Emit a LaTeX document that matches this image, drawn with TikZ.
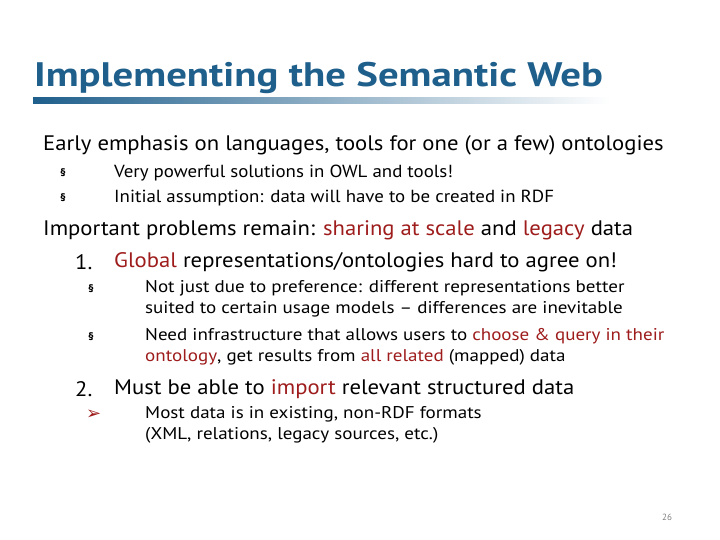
\documentclass[tikz,border=0pt]{standalone}
\usepackage{fontspec}
\setmainfont{PT Sans}
\newfontfamily\titlef[FakeStretch=1.2]{PT Sans}
\newfontfamily\bodyf[FakeStretch=1.08]{PT Sans}
\newfontfamily\subf[FakeStretch=1.12]{PT Sans}
\newfontfamily\symf{DejaVu Sans}
\definecolor{tblue}{HTML}{1F5F8C}
\definecolor{hred}{HTML}{9E1C1C}
\begin{document}
\begin{tikzpicture}[x=1pt,y=-1pt,
  txt/.style={anchor=west,inner sep=0pt,text=black},
  lvl1/.style={txt,font=\bodyf\fontsize{21}{24}\selectfont},
  lvl2/.style={txt,font=\bodyf\fontsize{17.5}{20}\selectfont},
  lvl3/.style={txt,font=\subf\fontsize{17}{21}\selectfont,align=left},
  bul/.style={txt,font=\bfseries\fontsize{11}{12}\selectfont}]
\useasboundingbox (0,0) rectangle (720,540);
\fill[white] (0,0) rectangle (720,540);
\node[txt,font=\titlef\fontsize{34}{38}\selectfont\bfseries,text=tblue] (title) at (34,78) {Implementing the Semantic Web};
\shade[left color=tblue,right color=white] (33,98) rectangle (610,104);
\node[lvl1] (l1) at (43,145) {Early emphasis on languages, tools for one (or a few) ontologies};
\node[bul] (b1) at (60,173) {§};
\node[lvl2] (t1) at (114,173) {Very powerful solutions in OWL and tools!};
\node[bul] (b2) at (60,198) {§};
\node[lvl2] (t2) at (114,198) {Initial assumption: data will have to be created in RDF};
\node[lvl1] (l2) at (43,230) {Important problems remain: \textcolor{hred}{sharing at scale} and \textcolor{hred}{legacy} data};
\node[lvl1] (n1) at (75,262) {1.};
\node[lvl1] (t3) at (114,262) {\textcolor{hred}{Global} representations/ontologies hard to agree on!};
\node[bul] (b3) at (88,289) {§};
\node[lvl3,anchor=north west] (t4) at (145,280) {Not just due to preference: different representations better\\suited to certain usage models – differences are inevitable};
\node[bul] (b4) at (88,337) {§};
\node[lvl3,anchor=north west] (t5) at (145,328) {Need infrastructure that allows users to \textcolor{hred}{choose \& query in their}\\\textcolor{hred}{ontology}, get results from \textcolor{hred}{all related} (mapped) data};
\node[lvl1] (n2) at (75,389) {2.};
\node[lvl1] (t6) at (114,389) {Must be able to \textcolor{hred}{import} relevant structured data};
\node[txt,font=\symf\bfseries\fontsize{18}{18}\selectfont,text=hred] (b5) at (86,415) {➢};
\node[lvl3,anchor=north west] (t7) at (145,406) {Most data is in existing, non-RDF formats\\(XML, relations, legacy sources, etc.)};
\node[txt,font=\fontsize{9}{10}\selectfont,text=gray] (pg) at (662,517) {26};
\end{tikzpicture}
\end{document}
